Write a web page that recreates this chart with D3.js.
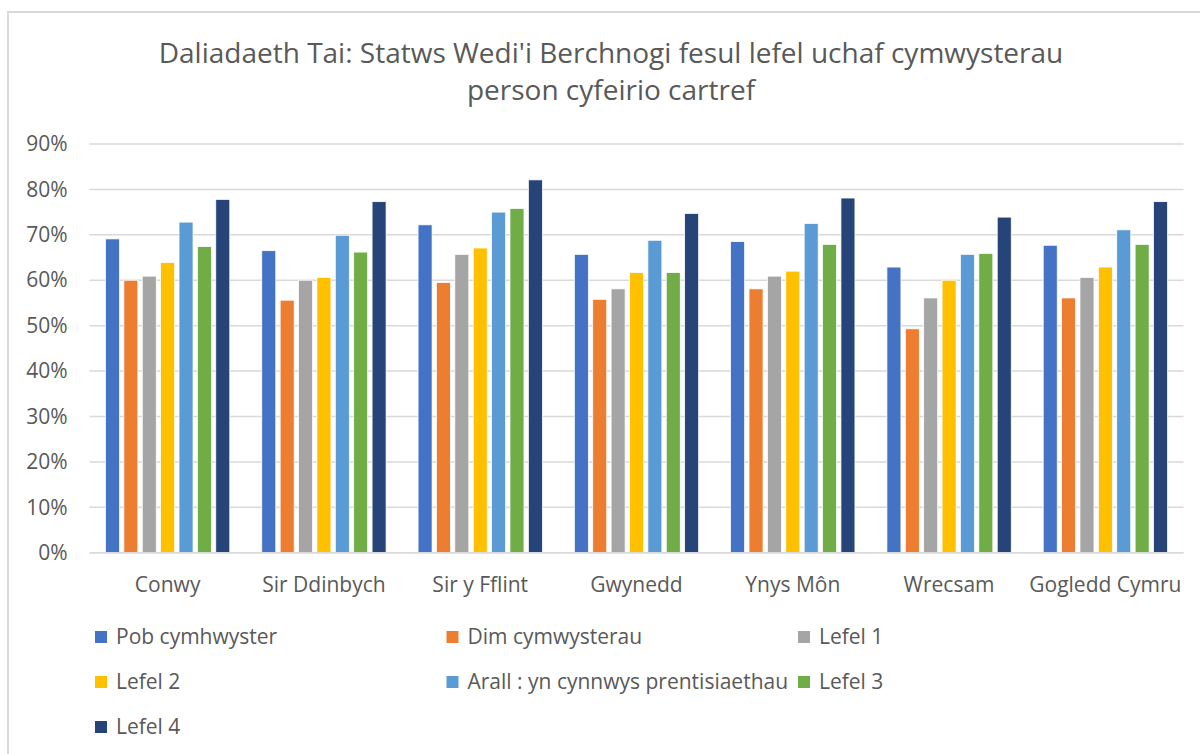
<!DOCTYPE html>
<html>
<head>
<meta charset="utf-8">
<script src="https://cdn.jsdelivr.net/npm/d3@7"></script>
<style>
  html, body { margin: 0; padding: 0; background: #fff; }
  svg { display: block; }
  text { font-family: "Open Sans", "Noto Sans", sans-serif; fill: #595959; }
</style>
</head>
<body>
<script>
const categories = ["Conwy", "Sir Ddinbych", "Sir y Fflint", "Gwynedd", "Ynys Môn", "Wrecsam", "Gogledd Cymru"];
const seriesNames = ["Pob cymhwyster", "Dim cymwysterau", "Lefel 1", "Lefel 2", "Arall : yn cynnwys prentisiaethau", "Lefel 3", "Lefel 4"];
const pobCymhwyster = [0.691, 0.665, 0.722, 0.657, 0.685, 0.629, 0.677];
const dimCymwysterau = [0.600, 0.556, 0.595, 0.558, 0.581, 0.493, 0.561];
const lefel1 = [0.609, 0.600, 0.657, 0.581, 0.609, 0.561, 0.606];
const lefel2 = [0.639, 0.606, 0.671, 0.617, 0.620, 0.600, 0.629];
const arall = [0.728, 0.699, 0.750, 0.688, 0.725, 0.657, 0.711];
const lefel3 = [0.674, 0.662, 0.758, 0.617, 0.679, 0.659, 0.679];
const lefel4 = [0.778, 0.773, 0.821, 0.747, 0.781, 0.739, 0.773];
const yTicks = [0, 0.1, 0.2, 0.3, 0.4, 0.5, 0.6, 0.7, 0.8, 0.9];
const titleLines = ["Daliadaeth Tai: Statws Wedi'i Berchnogi fesul lefel uchaf cymwysterau", "person cyfeirio cartref"];
const colors = ["#4472C4", "#ED7D31", "#A5A5A5", "#FFC000", "#5B9BD5", "#70AD47", "#264478"];

const seriesValues = [pobCymhwyster, dimCymwysterau, lefel1, lefel2, arall, lefel3, lefel4];

const W = 1200, H = 754;
const svg = d3.select("body").append("svg").attr("width", W).attr("height", H);

// chart border
svg.append("path")
  .attr("d", "M8,754 L8,12 L1200,12")
  .attr("fill", "none").attr("stroke", "#D9D9D9").attr("stroke-width", 2);

// title
const title = svg.append("text").attr("text-anchor", "middle").style("font-size", "28px");
titleLines.forEach((t, i) => {
  title.append("tspan").attr("x", 611).attr("y", 63 + i * 37).text(t);
});

const plotLeft = 89.5, plotRight = 1183.5, plotTop = 144, plotBottom = 552.7;
const y = d3.scaleLinear().domain([0, 0.9]).range([plotBottom, plotTop]);
const x0 = d3.scaleBand().domain(categories).range([plotLeft, plotRight]).paddingInner(0.2047).paddingOuter(0.1023);
const x1 = d3.scaleBand().domain(d3.range(seriesNames.length)).range([0, x0.bandwidth()]).paddingInner(0.2385).paddingOuter(0);

// gridlines
svg.append("g").selectAll("line").data(yTicks).join("line")
  .attr("x1", plotLeft).attr("x2", plotRight)
  .attr("y1", d => y(d)).attr("y2", d => y(d))
  .attr("stroke", "#D9D9D9").attr("stroke-width", 1.5);

// y axis labels
const yAxis = d3.axisLeft(y).tickValues(yTicks).tickFormat(d3.format(".0%")).tickSize(0).tickPadding(0);
const yg = svg.append("g").attr("transform", "translate(67.5,0)").call(yAxis);
yg.select(".domain").remove();
yg.selectAll("text").style("font-size", "21px").attr("fill", "#595959").style("font-family", "'Open Sans', sans-serif");

// bars
const groups = svg.append("g").selectAll("g").data(categories).join("g")
  .attr("transform", d => `translate(${x0(d)},0)`);
groups.selectAll("rect").data((c, ci) => seriesValues.map((vals, si) => ({ si, v: vals[ci] }))).join("rect")
  .attr("x", d => x1(d.si))
  .attr("width", x1.bandwidth())
  .attr("y", d => y(d.v))
  .attr("height", d => y(0) - y(d.v))
  .attr("fill", d => colors[d.si])
  .attr("stroke", "#fff").attr("stroke-width", 0.75);

// baseline
svg.append("line").attr("x1", plotLeft).attr("x2", plotRight).attr("y1", y(0)).attr("y2", y(0))
  .attr("stroke", "#D9D9D9").attr("stroke-width", 1.5);

// x axis labels
const xAxis = d3.axisBottom(x0).tickSize(0).tickPadding(0);
const xg = svg.append("g").attr("transform", `translate(0,${plotBottom})`).call(xAxis);
xg.select(".domain").remove();
xg.selectAll("text").attr("dy", null).attr("y", 39).style("font-size", "21px").attr("fill", "#595959").style("font-family", "'Open Sans', sans-serif");

// legend
const legCols = [95, 446.5, 798];
const legRows = [637, 682, 727];
const leg = svg.append("g").selectAll("g").data(seriesNames).join("g")
  .attr("transform", (d, i) => `translate(${legCols[i % 3]},${legRows[Math.floor(i / 3)]})`);
leg.append("rect").attr("x", 0).attr("y", -6).attr("width", 12).attr("height", 12)
  .attr("fill", (d, i) => colors[i]);
leg.append("text").attr("x", 21).attr("y", 0).attr("dy", "0.35em")
  .style("font-size", "21px").text(d => d);
</script>
</body>
</html>
